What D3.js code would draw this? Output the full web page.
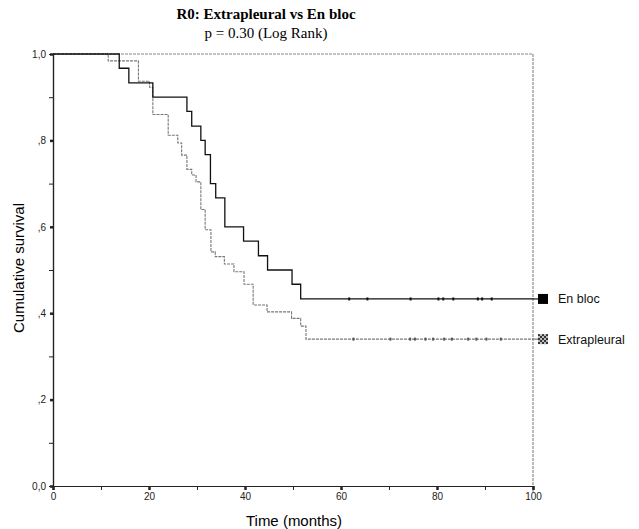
<!DOCTYPE html>
<html>
<head>
<meta charset="utf-8">
<title>R0: Extrapleural vs En bloc</title>
<script src="https://cdn.jsdelivr.net/npm/d3@7"></script>
<style>
    body { margin: 0; background: #fff; }
    .tick text { font-family: Arial, "Liberation Sans", sans-serif; font-size: 10px; fill: #222; }
</style>
</head>
<body>
<div id="chart"></div>
<script>
// survival steps (time in months, cumulative survival after the drop)
var enBlocTimes = [0, 13.8, 15.8, 20.8, 27.9, 28.9, 30.8, 31.7, 32.8, 33.9, 35.8, 39.7, 42.8, 44.7, 49.8, 51.6, 100];
var enBlocSurv  = [1, 0.967, 0.933, 0.9, 0.867, 0.833, 0.8, 0.767, 0.7, 0.667, 0.6, 0.567, 0.533, 0.5, 0.467, 0.433, 0.433];
var enBlocCensored = [61.7, 65.5, 74.5, 80.3, 81.3, 83.4, 88.5, 89.4, 91.4];

var extraTimes = [0, 11.5, 17.8, 20.1, 20.8, 24.0, 26.0, 26.8, 27.9, 28.9, 29.8, 30.8, 31.7, 32.9, 33.8, 35.7, 37.7, 39.8, 41.7, 44.6, 49.7, 51.6, 52.7, 100];
var extraSurv  = [1, 0.984, 0.937, 0.923, 0.86, 0.812, 0.794, 0.766, 0.733, 0.72, 0.704, 0.64, 0.593, 0.542, 0.531, 0.514, 0.496, 0.467, 0.419, 0.403, 0.388, 0.37, 0.34, 0.34];
var extraCensored = [62.6, 70.3, 74.4, 75.4, 77.6, 79.2, 81.5, 83.1, 86.5, 88.2, 90.3, 93.3];

var xMajor = [0, 20, 40, 60, 80, 100];
var xMinor = [10, 30, 50, 70, 90];
var yMajor = [0, 0.2, 0.4, 0.6, 0.8, 1.0];
var yMinor = [0.1, 0.3, 0.5, 0.7, 0.9];
var yLabels = ["0,0", ",2", ",4", ",6", ",8", "1,0"];

var groups = ["En bloc", "Extrapleural"];

var width = 639, height = 529;
var svg = d3.select("#chart").append("svg")
    .attr("width", width)
    .attr("height", height);

var x = d3.scaleLinear().domain([0, 100]).range([53, 533]);
var y = d3.scaleLinear().domain([0, 1]).range([486, 54]);

// checkered fill for the Extrapleural legend box
var pat = svg.append("defs").append("pattern")
    .attr("id", "checker")
    .attr("width", 4).attr("height", 4)
    .attr("patternUnits", "userSpaceOnUse");
pat.append("rect").attr("width", 4).attr("height", 4).attr("fill", "#bbb");
pat.append("rect").attr("width", 2).attr("height", 2).attr("fill", "#333");
pat.append("rect").attr("x", 2).attr("y", 2).attr("width", 2).attr("height", 2).attr("fill", "#333");

// frame: top and right are light dashed lines
svg.append("line")
    .attr("x1", x(0)).attr("x2", x(100))
    .attr("y1", y(1)).attr("y2", y(1))
    .attr("stroke", "#888").attr("stroke-width", 1).attr("stroke-dasharray", "3,1");
svg.append("line")
    .attr("x1", x(100)).attr("x2", x(100))
    .attr("y1", y(1)).attr("y2", y(0) + 6)
    .attr("stroke", "#777").attr("stroke-width", 1).attr("stroke-dasharray", "3,1");

// axes
function styleAxis(g) {
    g.select(".domain").attr("stroke", "#222").attr("stroke-width", 1.2);
    g.selectAll(".tick line").attr("stroke", "#222");
}

svg.append("g")
    .attr("transform", "translate(" + x(0) + ",0)")
    .call(d3.axisLeft(y).tickValues(yMinor).tickSize(4).tickFormat(""))
    .call(styleAxis);
svg.append("g")
    .attr("transform", "translate(" + x(0) + ",0)")
    .call(d3.axisLeft(y).tickValues(yMajor).tickSize(3).tickPadding(4)
        .tickFormat(function(d, i) { return yLabels[i]; }))
    .call(styleAxis)
    .call(function(g) { g.selectAll(".tick line").attr("stroke-width", 2.5); });

svg.append("g")
    .attr("transform", "translate(0," + y(0) + ")")
    .call(d3.axisBottom(x).tickValues(xMinor).tickSize(4).tickFormat(""))
    .call(styleAxis);
svg.append("g")
    .attr("transform", "translate(0," + y(0) + ")")
    .call(d3.axisBottom(x).tickValues(xMajor).tickSize(4).tickPadding(3))
    .call(styleAxis)
    .call(function(g) { g.selectAll(".tick line").attr("stroke-width", 2.5); });

// survival curves
var line = d3.line()
    .x(function(d) { return x(d[0]); })
    .y(function(d) { return y(d[1]); })
    .curve(d3.curveStepAfter);

var extraPts = extraTimes.map(function(t, i) { return [t, extraSurv[i]]; });
var enBlocPts = enBlocTimes.map(function(t, i) { return [t, enBlocSurv[i]]; });

svg.append("path")
    .datum(extraPts)
    .attr("d", line)
    .attr("fill", "none")
    .attr("stroke", "#777")
    .attr("stroke-width", 1.1)
    .attr("stroke-dasharray", "3,1");

svg.append("path")
    .datum(enBlocPts)
    .attr("d", line)
    .attr("fill", "none")
    .attr("stroke", "#111")
    .attr("stroke-width", 1.3);

// censored marks
function AddCensored(times, level, color) {
    svg.append("g").selectAll("line")
        .data(times)
        .enter().append("line")
        .attr("x1", function(d) { return x(d); })
        .attr("x2", function(d) { return x(d); })
        .attr("y1", y(level) - 1.5)
        .attr("y2", y(level) + 1.5)
        .attr("stroke", color)
        .attr("stroke-width", 2);
}
AddCensored(enBlocCensored, enBlocSurv[enBlocSurv.length - 1], "#111");
AddCensored(extraCensored, extraSurv[extraSurv.length - 1], "#555");

// legend at the end of each curve
var legendLevels = [enBlocSurv[enBlocSurv.length - 1], extraSurv[extraSurv.length - 1]];
var legendFills = ["#000", "url(#checker)"];
var legendStroke = ["#111", "#777"];

groups.forEach(function(name, i) {
    var ly = y(legendLevels[i]);
    svg.append("line")
        .attr("x1", x(100)).attr("x2", 538)
        .attr("y1", ly).attr("y2", ly)
        .attr("stroke", legendStroke[i]).attr("stroke-width", 1.2);
    svg.append("rect")
        .attr("x", 538).attr("y", ly - 5)
        .attr("width", 10).attr("height", 10)
        .attr("fill", legendFills[i]);
    svg.append("text")
        .attr("x", 558).attr("y", ly + 4.5)
        .attr("font-family", "Arial, 'Liberation Sans', sans-serif")
        .attr("font-size", "12.5px")
        .attr("fill", "#111")
        .text(name);
});

// titles
svg.append("text")
    .attr("x", 266).attr("y", 19)
    .attr("text-anchor", "middle")
    .attr("font-family", "'Liberation Serif', 'Times New Roman', serif")
    .attr("font-weight", "bold")
    .attr("font-size", "15px")
    .text("R0: Extrapleural vs En bloc");
svg.append("text")
    .attr("x", 266).attr("y", 38)
    .attr("text-anchor", "middle")
    .attr("font-family", "'Liberation Serif', 'Times New Roman', serif")
    .attr("font-size", "15px")
    .text("p = 0.30 (Log Rank)");

svg.append("text")
    .attr("x", 294).attr("y", 526)
    .attr("text-anchor", "middle")
    .attr("font-family", "Arial, 'Liberation Sans', sans-serif")
    .attr("font-size", "15px")
    .text("Time (months)");

svg.append("text")
    .attr("transform", "translate(24,268) rotate(-90)")
    .attr("text-anchor", "middle")
    .attr("font-family", "Arial, 'Liberation Sans', sans-serif")
    .attr("font-size", "15px")
    .text("Cumulative survival");
</script>
</body>
</html>
